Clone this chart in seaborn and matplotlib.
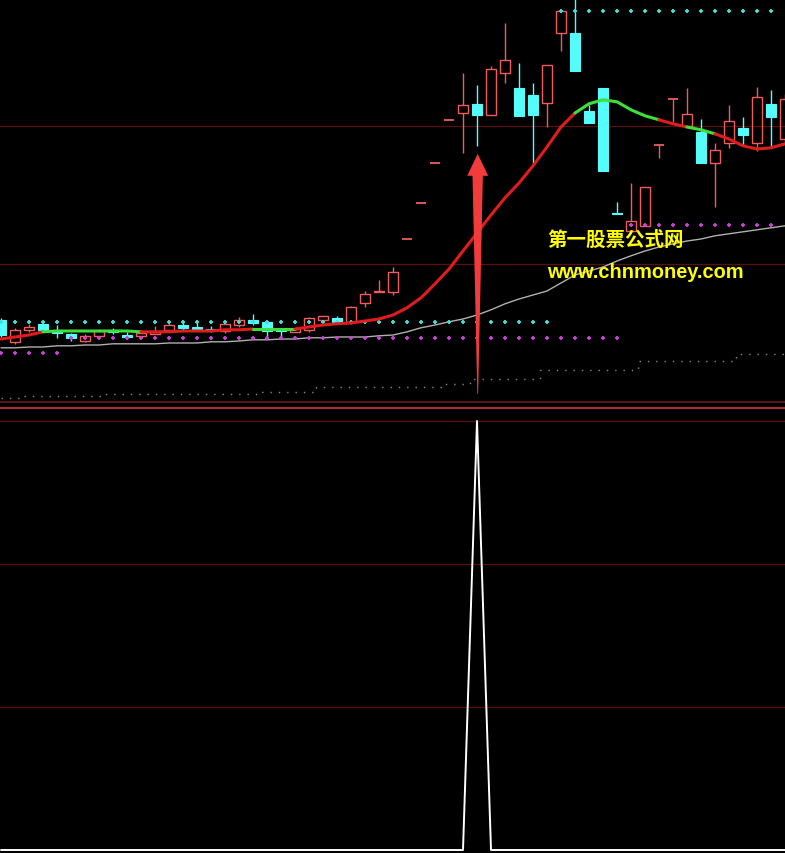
import matplotlib

matplotlib.use("Agg")
import matplotlib.pyplot as plt
from matplotlib.patches import Polygon
import numpy as np
import pandas as pd
import seaborn as sns

# daily candles, oldest first (prices)
opens = [6.98, 6.43, 6.73, 6.88, 6.73, 6.63, 6.45, 6.58, 6.73, 6.60,
         6.58, 6.63, 6.73, 6.85, 6.80, 6.75, 6.70, 6.85, 6.98, 6.93,
         6.73, 6.68, 6.73, 6.98, 7.03, 6.93, 7.40, 7.68, 7.68, 9.00,
         9.90, 10.90, 11.98, 12.15, 12.38, 12.10, 13.15, 12.78, 12.60, 12.40,
         14.15, 14.15, 12.20, 12.78, 9.64, 9.20, 9.33, 11.35, 12.50, 11.83,
         11.68, 10.90, 11.40, 11.78, 11.40, 12.38, 11.50]
highs = [7.03, 6.78, 6.88, 6.93, 6.85, 6.65, 6.63, 6.75, 6.78, 6.68,
         6.70, 6.83, 6.93, 6.93, 6.93, 6.83, 6.95, 7.05, 7.13, 6.95,
         6.75, 6.75, 7.05, 7.08, 7.08, 7.33, 7.70, 7.98, 8.30, 9.00,
         9.90, 10.90, 11.98, 13.15, 12.85, 13.33, 14.40, 13.40, 12.90, 13.35,
         14.70, 15.50, 12.35, 12.78, 9.93, 10.40, 10.30, 11.35, 12.50, 12.78,
         12.00, 11.40, 12.35, 12.05, 12.80, 12.73, 12.63]
lows = [6.55, 6.38, 6.68, 6.68, 6.53, 6.45, 6.43, 6.58, 6.63, 6.50,
        6.58, 6.63, 6.68, 6.70, 6.73, 6.68, 6.65, 6.80, 6.85, 6.55,
        6.50, 6.68, 6.68, 6.98, 6.88, 6.88, 7.30, 7.68, 7.60, 9.00,
        9.90, 10.90, 11.98, 11.15, 11.33, 12.10, 12.90, 12.08, 10.88, 11.80,
        13.70, 13.20, 11.90, 10.70, 9.63, 9.20, 9.33, 11.03, 11.93, 11.83,
        10.90, 9.80, 11.28, 11.33, 11.20, 11.30, 11.38]
closes = [6.60, 6.73, 6.80, 6.73, 6.65, 6.53, 6.58, 6.70, 6.68, 6.55,
          6.65, 6.68, 6.85, 6.78, 6.75, 6.70, 6.88, 6.98, 6.90, 6.70,
          6.70, 6.75, 7.03, 7.08, 6.90, 7.30, 7.63, 7.70, 8.18, 9.00,
          9.90, 10.90, 11.98, 12.35, 12.10, 13.25, 13.48, 12.08, 12.10, 13.35,
          14.70, 13.20, 11.90, 10.70, 9.63, 9.45, 10.30, 11.35, 12.50, 12.13,
          10.90, 11.23, 11.95, 11.60, 12.55, 12.05, 12.50]

# thick trend average, green where the trend flag is off
trend_ma = [6.50, 6.55, 6.60, 6.68, 6.70, 6.70, 6.70, 6.70, 6.70, 6.70,
            6.68, 6.68, 6.68, 6.70, 6.70, 6.70, 6.73, 6.73, 6.75, 6.75,
            6.75, 6.75, 6.80, 6.85, 6.88, 6.90, 6.95, 7.00, 7.10, 7.28,
            7.53, 7.88, 8.25, 8.70, 9.15, 9.60, 10.03, 10.40, 10.83, 11.30,
            11.80, 12.15, 12.38, 12.48, 12.43, 12.23, 12.08, 11.98, 11.88, 11.80,
            11.73, 11.63, 11.50, 11.33, 11.25, 11.28, 11.38]
green_runs = [(3, 10), (18, 21), (41, 47), (49, 51)]

# thin slow average
slow_ma = [6.28, 6.28, 6.30, 6.30, 6.33, 6.33, 6.35, 6.35, 6.38, 6.38,
           6.38, 6.38, 6.40, 6.40, 6.40, 6.43, 6.43, 6.45, 6.48, 6.48,
           6.50, 6.50, 6.53, 6.53, 6.55, 6.55, 6.55, 6.58, 6.60, 6.68,
           6.78, 6.85, 6.93, 7.00, 7.10, 7.23, 7.38, 7.50, 7.60, 7.70,
           7.90, 8.10, 8.20, 8.30, 8.45, 8.58, 8.70, 8.80, 8.88, 8.95,
           9.00, 9.08, 9.13, 9.18, 9.23, 9.28, 9.33]

# dotted step levels
cyan_level = [6.93] * 40 + [14.70] * 16 + [np.nan]
magenta_level = [6.15] * 5 + [6.53] * 40 + [9.35] * 11 + [np.nan]
floor_level = ([5.03] * 2 + [5.08] * 6 + [5.13] * 11 + [5.18] * 4 + [5.30] * 9
               + [5.38] * 2 + [5.50] * 5 + [5.73] * 7 + [5.95] * 7 + [6.13] * 4)

# lower panel signal
signal = [0] * 34 + [1] + [0] * 22

grid_upper = [8.375, 11.825]
grid_lower = [1 / 3, 2 / 3, 1.0]

n = len(closes)
idx = np.arange(n)
df = pd.DataFrame({
    "day": idx, "open": opens, "high": highs, "low": lows, "close": closes,
    "ma": trend_ma, "slow": slow_ma, "cyan": cyan_level,
    "magenta": magenta_level, "floor": floor_level, "signal": signal,
})

sns.set_style("dark", rc={"axes.facecolor": "black", "figure.facecolor": "black"})

fig = plt.figure(figsize=(7.85, 8.54), dpi=100)
ax = fig.add_axes([0, 451 / 854, 1, 403 / 854])
ax2 = fig.add_axes([0, 0, 1, 445 / 854])

up_color = "#f05c5c"
down_color = "#54fcfc"
body_w = 0.76

for y in grid_upper:
    ax.axhline(y, color="#5a1010", lw=0.9, zorder=0)

# candles
up = df[df["close"] >= df["open"]]
down = df[df["close"] < df["open"]]
ax.vlines(down["day"], down["low"], down["high"], color=down_color, lw=1, zorder=2)
ax.bar(down["day"], down["open"] - down["close"], bottom=down["close"], width=body_w,
       color=down_color, edgecolor=down_color, lw=0.8, zorder=3)
ax.vlines(up["day"], up["close"], up["high"], color=up_color, lw=1, zorder=2)
ax.vlines(up["day"], up["low"], up["open"], color=up_color, lw=1, zorder=2)
flat = up[(up["close"] - up["open"]) < 0.02]
body = up[(up["close"] - up["open"]) >= 0.02]
ax.bar(body["day"], body["close"] - body["open"], bottom=body["open"], width=body_w,
       facecolor="none", edgecolor=up_color, lw=1, zorder=3)
ax.hlines(flat["close"], flat["day"] - body_w / 2, flat["day"] + body_w / 2,
          color=up_color, lw=1.3, zorder=3)

# slow line and dotted levels
sns.lineplot(data=df, x="day", y="slow", color="#b0b0b0", lw=1, ax=ax, zorder=4)
sns.lineplot(data=df, x="day", y="floor", color="#8a8a8a", lw=1,
             linestyle=(0, (1, 5)), drawstyle="steps-mid", ax=ax, zorder=1)
sns.scatterplot(data=df, x="day", y="cyan", marker="+", s=9, color="#40e0d8",
                linewidth=1.3, ax=ax, zorder=4)
sns.scatterplot(data=df, x="day", y="magenta", marker="+", s=9, color="#d040d8",
                linewidth=1.3, ax=ax, zorder=4)

# trend average, red / green runs
green_flag = np.zeros(n - 1, dtype=bool)
for a, b in green_runs:
    green_flag[a:b] = True
start = 0
for k in range(1, n):
    if k == n - 1 or green_flag[k] != green_flag[start]:
        seg = df.iloc[start:k + 1]
        sns.lineplot(data=seg, x="day", y="ma", lw=2.2, ax=ax, zorder=5,
                     color="#3ce03c" if green_flag[start] else "#e01c1c")
        start = k

# buy-signal arrow under candle 34
ax_x = 34.05
arrow = Polygon([(ax_x, 11.13), (ax_x + 0.75, 10.58), (ax_x + 0.37, 10.58),
                 (ax_x + 0.03, 5.13), (ax_x - 0.03, 5.13), (ax_x - 0.37, 10.58),
                 (ax_x - 0.75, 10.58)], closed=True, color="#f23c3c", lw=0, zorder=6)
ax.add_patch(arrow)

ax.set_xlim(-1 / 14, 56.0)
ax.set_ylim(4.925, 15.0)
ax.set_xlabel("")
ax.set_ylabel("")
ax.set_xticks([])
ax.set_yticks([])
for side, sp in ax.spines.items():
    sp.set_visible(side == "bottom")
ax.spines["bottom"].set_color("#6a1a1a")
ax.spines["bottom"].set_linewidth(1.2)

# lower panel
for y in grid_lower:
    ax2.axhline(y, color="#5a1010", lw=0.9, zorder=0)
sns.lineplot(data=df, x="day", y="signal", color="white", lw=1.4, ax=ax2, zorder=3)
ax2.set_xlim(-1 / 14, 56.0)
ax2.set_ylim(-3 / 429, 1 + 13 / 429)
ax2.set_xlabel("")
ax2.set_ylabel("")
ax2.set_xticks([])
ax2.set_yticks([])
for side, sp in ax2.spines.items():
    sp.set_visible(side == "top")
ax2.spines["top"].set_color("#b03030")
ax2.spines["top"].set_linewidth(1.4)

# watermark
fig.text(547 / 785, 1 - 240 / 854, "第一股票公式网", color="#ffff00", fontsize=14,
         fontweight="bold", family=["Noto Sans CJK SC", "DejaVu Sans"],
         ha="left", va="center", zorder=10)
fig.text(547 / 785, 1 - 273 / 854, "www.chnmoney.com", color="#ffff00", fontsize=14.4,
         fontweight="bold", family=["Liberation Sans", "DejaVu Sans"],
         ha="left", va="center", zorder=10)

fig.savefig("out.png", dpi=100, facecolor="black")
plt.close(fig)
